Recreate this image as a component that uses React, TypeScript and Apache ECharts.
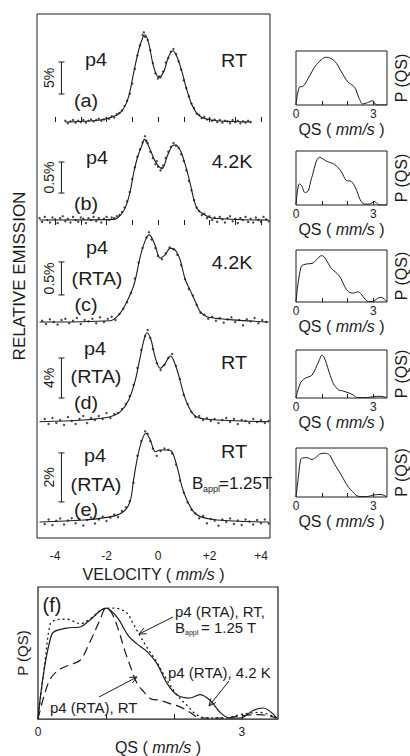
import React, { useEffect, useRef } from "react";
import * as echarts from "echarts";

const FONT = "'Liberation Sans', Arial, Helvetica, sans-serif";
const INK = "#1c1c1c";

// ---- velocity axis (mm/s)
const VEL_MIN = -4.7;
const VEL_MAX = 4.35;
const VEL_TICKS = [-4, -3, -2, -1, 0, 1, 2, 3, 4];
const VEL_LABELS = [-4, -2, 0, 2, 4];

// ---- QS axis (mm/s)
const QS_MAX = 3.53;
const QS_TICKS = [1, 2, 3];
const QS_LABELS = [0, 3];

// ---- spectra: [velocity, relative emission %] (baseline = 0)
const FIT_A = [[-3.6, 0], [-2.24, 0.31], [-1.59, 1.09], [-1.33, 2.14], [-1.14, 3.95], [-0.95, 7.61], [-0.75, 11.25], [-0.58, 13.33], [-0.5, 13.6], [-0.36, 12.3], [-0.17, 8.64], [0.02, 6.98], [0.22, 7.86], [0.41, 10.2], [0.58, 11.14], [0.74, 10.16], [0.93, 7.86], [1.12, 5.0], [1.32, 2.66], [1.51, 1.36], [1.77, 0.58], [2.29, 0.2], [3.6, 0]];
const DOTS_A = [[-3.6, 0.2], [-3.5, -0.2], [-3.4, 0.1], [-3.3, 0.3], [-3.2, -0.1], [-3.1, 0.2], [-3.0, 0.0], [-2.9, 0.3], [-2.8, -0.1], [-2.7, 0.2], [-2.6, 0.4], [-2.5, 0.1], [-2.4, 0.3], [-2.3, 0.5], [-2.2, 0.2], [-2.1, 0.4], [-2.0, 0.6], [-1.9, 0.5], [-1.8, 0.9], [-1.7, 0.7], [-1.6, 1.2], [-1.5, 1.4], [-1.4, 1.8], [-1.3, 2.5], [-1.2, 3.3], [-1.1, 4.4], [-1.0, 6.0], [-0.9, 8.3], [-0.8, 10.4], [-0.7, 12.0], [-0.6, 13.6], [-0.55, 14.0], [-0.5, 13.3], [-0.4, 12.8], [-0.3, 11.2], [-0.2, 9.2], [-0.1, 7.6], [0.0, 6.8], [0.05, 7.1], [0.1, 7.0], [0.2, 7.9], [0.3, 9.3], [0.4, 10.0], [0.5, 11.0], [0.6, 11.4], [0.7, 10.6], [0.8, 9.5], [0.9, 8.2], [1.0, 6.5], [1.1, 5.3], [1.2, 4.0], [1.3, 2.9], [1.4, 2.2], [1.5, 1.3], [1.6, 1.1], [1.7, 0.6], [1.8, 0.8], [1.9, 0.4], [2.0, 0.5], [2.1, 0.2], [2.2, 0.4], [2.3, 0.0], [2.4, 0.3], [2.5, -0.1], [2.6, 0.2], [2.7, 0.1], [2.8, -0.2], [2.9, 0.3], [3.0, 0.0], [3.1, 0.2], [3.2, -0.2], [3.3, 0.1], [3.4, -0.1], [3.5, 0.2], [3.6, 0.0]];

const FIT_B = [[-4.6, 0], [-1.72, 0.01], [-1.4, 0.108], [-1.23, 0.24], [-1.07, 0.48], [-0.95, 0.75], [-0.79, 1.02], [-0.62, 1.21], [-0.53, 1.3], [-0.3, 1.13], [-0.1, 0.94], [0.16, 0.83], [0.35, 1.02], [0.54, 1.19], [0.67, 1.21], [0.86, 1.13], [1.06, 0.89], [1.25, 0.59], [1.38, 0.35], [1.51, 0.19], [1.71, 0.108], [2.16, 0.027], [4.3, 0]];
const DOTS_B = [[-4.6, 0.03], [-4.5, -0.03], [-4.4, 0.05], [-4.3, 0.0], [-4.2, -0.04], [-4.1, 0.04], [-4.0, 0.01], [-3.9, -0.05], [-3.8, 0.03], [-3.7, 0.06], [-3.6, -0.02], [-3.5, 0.02], [-3.4, -0.04], [-3.3, 0.05], [-3.2, 0.0], [-3.1, -0.03], [-3.0, 0.04], [-2.9, 0.02], [-2.8, -0.05], [-2.7, 0.03], [-2.6, 0.0], [-2.5, 0.05], [-2.4, -0.02], [-2.3, 0.03], [-2.2, -0.04], [-2.1, 0.02], [-2.0, 0.05], [-1.9, 0.0], [-1.8, 0.04], [-1.7, 0.03], [-1.6, 0.06], [-1.5, 0.08], [-1.4, 0.13], [-1.3, 0.2], [-1.2, 0.3], [-1.1, 0.45], [-1.0, 0.66], [-0.9, 0.85], [-0.8, 1.02], [-0.7, 1.14], [-0.6, 1.25], [-0.5, 1.35], [-0.45, 1.28], [-0.4, 1.24], [-0.3, 1.1], [-0.2, 1.0], [-0.1, 0.9], [-0.05, 0.95], [0.0, 0.86], [0.1, 0.8], [0.15, 0.84], [0.2, 0.88], [0.3, 1.0], [0.4, 1.1], [0.5, 1.18], [0.6, 1.24], [0.7, 1.2], [0.8, 1.16], [0.9, 1.06], [1.0, 0.95], [1.1, 0.8], [1.2, 0.63], [1.3, 0.48], [1.4, 0.32], [1.5, 0.2], [1.6, 0.14], [1.7, 0.08], [1.8, 0.1], [1.9, 0.03], [2.0, 0.06], [2.1, 0.0], [2.2, 0.04], [2.3, -0.03], [2.4, 0.05], [2.5, 0.01], [2.6, -0.04], [2.7, 0.03], [2.8, 0.06], [2.9, -0.02], [3.0, 0.02], [3.1, -0.05], [3.2, 0.03], [3.3, 0.0], [3.4, 0.05], [3.5, -0.03], [3.6, 0.02], [3.7, -0.04], [3.8, 0.04], [3.9, 0.0], [4.0, -0.03], [4.1, 0.05], [4.2, 0.01], [4.3, -0.02]];

const FIT_C = [[-4.6, 0], [-1.85, 0.02], [-1.53, 0.106], [-1.27, 0.26], [-1.01, 0.48], [-0.88, 0.64], [-0.69, 0.99], [-0.49, 1.24], [-0.34, 1.32], [-0.14, 1.19], [0.09, 0.97], [0.28, 1.02], [0.48, 1.12], [0.67, 1.09], [0.86, 0.94], [1.06, 0.64], [1.25, 0.48], [1.45, 0.31], [1.64, 0.156], [1.9, 0.08], [2.67, 0.04], [4.3, 0]];
const DOTS_C = [[-4.5, 0.02], [-4.35, -0.03], [-4.2, 0.04], [-4.05, 0.0], [-3.9, -0.04], [-3.75, 0.03], [-3.6, 0.05], [-3.45, -0.02], [-3.3, 0.02], [-3.15, 0.06], [-3.0, -0.03], [-2.85, 0.03], [-2.7, 0.01], [-2.55, 0.05], [-2.4, -0.02], [-2.25, 0.07], [-2.1, 0.0], [-1.95, 0.05], [-1.8, 0.08], [-1.65, 0.03], [-1.5, 0.12], [-1.35, 0.2], [-1.2, 0.3], [-1.05, 0.44], [-0.9, 0.66], [-0.75, 0.9], [-0.6, 1.12], [-0.45, 1.28], [-0.35, 1.36], [-0.25, 1.25], [-0.1, 1.12], [0.0, 1.0], [0.15, 0.95], [0.3, 1.04], [0.45, 1.13], [0.6, 1.1], [0.75, 1.02], [0.9, 0.86], [1.05, 0.65], [1.2, 0.5], [1.35, 0.4], [1.5, 0.26], [1.65, 0.14], [1.8, 0.11], [1.95, 0.05], [2.1, 0.08], [2.25, 0.02], [2.4, 0.06], [2.55, -0.01], [2.7, 0.04], [2.85, 0.07], [3.0, 0.0], [3.15, 0.03], [3.3, -0.05], [3.45, 0.04], [3.6, 0.01], [3.75, 0.06], [3.9, -0.02], [4.05, 0.03], [4.2, 0.0]];

const FIT_D = [[-4.6, 0.03], [-2.88, 0.2], [-1.85, 0.53], [-1.46, 1.03], [-1.14, 2.2], [-0.88, 4.2], [-0.69, 6.53], [-0.53, 8.37], [-0.43, 8.93], [-0.27, 8.2], [-0.1, 6.37], [0.09, 5.37], [0.28, 5.87], [0.48, 6.6], [0.6, 6.2], [0.8, 4.7], [0.99, 2.87], [1.19, 1.53], [1.45, 0.6], [1.9, 0.27], [4.3, 0.03]];
const DOTS_D = [[-4.4, 0.3], [-4.25, -0.2], [-4.1, 0.4], [-3.95, -0.1], [-3.8, 0.2], [-3.65, -0.3], [-3.5, 0.5], [-3.35, 0.1], [-3.2, -0.2], [-3.05, 0.3], [-2.9, 0.6], [-2.75, -0.1], [-2.6, 0.4], [-2.45, 0.2], [-2.3, 0.6], [-2.15, 0.3], [-2.0, 0.9], [-1.85, 0.4], [-1.7, 0.8], [-1.55, 0.9], [-1.4, 1.3], [-1.25, 1.8], [-1.1, 2.6], [-0.95, 3.7], [-0.8, 5.4], [-0.65, 7.2], [-0.5, 8.6], [-0.4, 9.2], [-0.3, 8.4], [-0.2, 7.3], [-0.05, 5.9], [0.1, 5.2], [0.25, 5.7], [0.4, 6.4], [0.55, 6.8], [0.7, 5.6], [0.85, 4.3], [1.0, 2.7], [1.15, 1.8], [1.3, 1.0], [1.45, 0.5], [1.6, 0.6], [1.75, 0.2], [1.9, 0.4], [2.05, 0.1], [2.2, 0.3], [2.35, -0.1], [2.5, 0.2], [2.65, 0.4], [2.8, 0.0], [2.95, 0.3], [3.1, -0.2], [3.25, 0.2], [3.4, 0.1], [3.55, -0.1], [3.7, 0.3], [3.85, 0.0], [4.0, 0.2], [4.15, -0.1], [4.3, 0.1]];

const FIT_E = [[-4.6, 0], [-2.88, 0.08], [-1.72, 0.24], [-1.27, 0.49], [-1.07, 0.9], [-0.95, 1.71], [-0.79, 2.67], [-0.62, 3.35], [-0.47, 3.62], [-0.3, 3.35], [-0.1, 2.87], [0.09, 2.94], [0.35, 2.94], [0.54, 2.87], [0.74, 2.26], [0.93, 1.44], [1.12, 0.9], [1.38, 0.42], [1.64, 0.22], [2.29, 0.08], [4.3, 0]];
const DOTS_E = [[-4.4, -0.08], [-4.25, 0.1], [-4.1, -0.12], [-3.95, 0.05], [-3.8, 0.14], [-3.65, -0.1], [-3.5, 0.06], [-3.35, 0.15], [-3.2, -0.05], [-3.05, 0.12], [-2.9, -0.14], [-2.75, 0.08], [-2.6, 0.18], [-2.45, -0.06], [-2.3, 0.1], [-2.15, 0.22], [-2.0, 0.04], [-1.85, 0.18], [-1.7, 0.3], [-1.55, 0.2], [-1.4, 0.45], [-1.25, 0.6], [-1.1, 0.85], [-0.95, 1.6], [-0.8, 2.7], [-0.65, 3.3], [-0.5, 3.7], [-0.4, 3.6], [-0.3, 3.3], [-0.2, 3.0], [-0.05, 2.7], [0.1, 2.9], [0.25, 3.0], [0.4, 2.95], [0.55, 2.8], [0.7, 2.35], [0.85, 1.7], [1.0, 1.2], [1.15, 0.8], [1.3, 0.5], [1.45, 0.35], [1.6, 0.15], [1.75, 0.25], [1.9, -0.05], [2.05, 0.12], [2.2, 0.05], [2.35, -0.15], [2.5, 0.1], [2.65, 0.0], [2.8, 0.14], [2.95, -0.08], [3.1, 0.06], [3.25, -0.12], [3.4, 0.1], [3.55, 0.02], [3.7, -0.1], [3.85, 0.08], [4.0, -0.05], [4.15, 0.1], [4.3, -0.06]];

// scale bars [from %, to %] and their labels
const BAR_V = -3.75;
const BAR_A = [4.375, 9.375];
const BAR_B = [0.435, 0.935];
const BAR_C = [0.41, 0.91];
const BAR_D = [2.4, 6.4];
const BAR_E = [0.82, 2.82];
const BAR_LABELS = ["5%", "0.5%", "0.5%", "4%", "2%"];

// ---- QS distributions [QS mm/s, P(QS) normalised]
const PQS_P4_RT = [[0, 0], [0.13, 0.37], [0.28, 0.39], [0.47, 0.55], [0.8, 0.84], [1.18, 0.99], [1.5, 0.91], [1.76, 0.69], [2.01, 0.48], [2.27, 0.37], [2.44, 0.15], [2.59, 0.02], [2.78, 0.05], [2.97, 0.09], [3.13, 0.0], [3.53, 0]];
const PQS_P4_42K = [[0, 0], [0.13, 0.44], [0.22, 0.4], [0.35, 0.26], [0.47, 0.29], [0.6, 0.55], [0.92, 0.99], [1.18, 0.91], [1.5, 0.84], [1.76, 0.69], [1.95, 0.51], [2.14, 0.49], [2.33, 0.33], [2.49, 0.11], [2.65, 0.02], [2.85, 0.02], [3.04, 0.07], [3.23, 0], [3.53, 0]];
const PQS_RTA_42K = [[0, 0], [0.2, 0.76], [0.42, 0.82], [0.62, 0.83], [0.76, 0.89], [1.0, 1.0], [1.16, 0.92], [1.33, 0.75], [1.45, 0.68], [1.6, 0.61], [1.75, 0.5], [1.89, 0.33], [2.04, 0.22], [2.24, 0.19], [2.38, 0.22], [2.53, 0.17], [2.68, 0.06], [2.82, 0.01], [2.97, 0.01], [3.17, 0.08], [3.31, 0.1], [3.51, 0.01]];
const PQS_RTA_RT = [[0, 0], [0.08, 0.19], [0.18, 0.36], [0.3, 0.44], [0.47, 0.49], [0.62, 0.53], [0.76, 0.69], [0.91, 0.89], [1.0, 1.0], [1.08, 0.96], [1.18, 0.81], [1.28, 0.61], [1.38, 0.44], [1.45, 0.33], [1.55, 0.25], [1.67, 0.18], [1.79, 0.17], [1.94, 0.14], [2.09, 0.11], [2.24, 0.06], [2.38, 0.01], [2.77, 0.01], [2.97, 0.03], [3.26, 0.04], [3.51, 0.01]];
const PQS_RTA_RT_B = [[0, 0], [0.1, 0.5], [0.18, 0.86], [0.25, 0.89], [0.42, 0.9], [0.62, 0.86], [0.76, 0.9], [0.96, 0.99], [1.13, 1.0], [1.3, 0.96], [1.4, 0.86], [1.5, 0.75], [1.62, 0.63], [1.75, 0.51], [1.89, 0.36], [2.04, 0.22], [2.19, 0.125], [2.33, 0.04], [2.48, 0.01], [2.77, 0.01], [2.97, 0.04], [3.26, 0.06], [3.51, 0.01]];

// ---- layout
const MAIN = { left: 37, top: 14, width: 233, height: 524 };
const SPEC_LAYOUT = [
  { base: 122, ppu: 6.4 },
  { base: 220, ppu: 62 },
  { base: 322, ppu: 66 },
  { base: 422, ppu: 10 },
  { base: 522, ppu: 24.5 },
];
const INSET_BOXES = [[51, 105], [151, 205], [250, 302], [350, 398], [448, 497]];
const FBOX = { left: 38, top: 587, width: 240, height: 143 };

const SPECTRA = [
  { fit: FIT_A, dots: DOTS_A, bar: BAR_A },
  { fit: FIT_B, dots: DOTS_B, bar: BAR_B },
  { fit: FIT_C, dots: DOTS_C, bar: BAR_C },
  { fit: FIT_D, dots: DOTS_D, bar: BAR_D },
  { fit: FIT_E, dots: DOTS_E, bar: BAR_E },
];
const INSET_CURVES = [PQS_P4_RT, PQS_P4_42K, PQS_RTA_42K, PQS_RTA_RT, PQS_RTA_RT_B];

const richQS = (size: number) => ({
  n: { fontSize: size, fontFamily: FONT, color: INK },
  i: { fontSize: size, fontFamily: FONT, color: INK, fontStyle: "italic" },
});

function txt(text: string, x: number, y: number, size = 18, align = "center", sx = 1.1) {
  return {
    type: "text",
    x,
    y,
    scaleX: sx,
    style: { text, fontSize: size, fontFamily: FONT, fill: INK, align, verticalAlign: "middle" },
  };
}

function arrow(p0: number[], p1: number[]) {
  const dx = p1[0] - p0[0];
  const dy = p1[1] - p0[1];
  const L = Math.hypot(dx, dy);
  const ux = dx / L;
  const uy = dy / L;
  const h = 7;
  const w = 3.2;
  const bx = p1[0] - ux * h;
  const by = p1[1] - uy * h;
  return [
    { type: "polyline", shape: { points: [p0, p1] }, style: { stroke: INK, lineWidth: 1, fill: null } },
    {
      type: "polyline",
      shape: { points: [[bx - uy * w, by + ux * w], p1, [bx + uy * w, by - ux * w]] },
      style: { stroke: INK, lineWidth: 1, fill: null },
    },
  ];
}

function buildOption() {
  const grids: any[] = [];
  const xAxes: any[] = [];
  const yAxes: any[] = [];
  const series: any[] = [];

  grids.push({ ...MAIN, show: true, borderColor: INK, borderWidth: 1, backgroundColor: "transparent" });
  xAxes.push({
    type: "value", gridIndex: 0, min: VEL_MIN, max: VEL_MAX, position: "bottom",
    axisLine: { show: false }, splitLine: { show: false },
    axisTick: { show: true, inside: true, length: 5, customValues: VEL_TICKS, lineStyle: { color: INK } },
    axisLabel: {
      customValues: VEL_LABELS, fontSize: 12, color: INK, fontFamily: FONT, margin: 12,
      formatter: (v: number) => (v > 0 ? "+" + v : String(v)),
    },
    name: "{n|VELOCITY ( }{i|mm/s}{n| )}", nameLocation: "middle", nameGap: 26,
    nameTextStyle: { rich: richQS(16) },
  });
  xAxes.push({
    type: "value", gridIndex: 0, min: VEL_MIN, max: VEL_MAX, position: "top",
    axisLine: { show: false }, splitLine: { show: false }, axisLabel: { show: false },
    axisTick: { show: true, inside: true, length: 5, customValues: VEL_TICKS, lineStyle: { color: INK } },
  });

  SPECTRA.forEach((s, i) => {
    const lay = SPEC_LAYOUT[i];
    yAxes.push({
      type: "value", gridIndex: 0, show: false,
      min: -(MAIN.top + MAIN.height - lay.base) / lay.ppu,
      max: (lay.base - MAIN.top) / lay.ppu,
    });
    series.push({
      type: "scatter", xAxisIndex: 0, yAxisIndex: i, data: s.dots, symbolSize: 2.4,
      itemStyle: { color: INK }, silent: true,
    });
    series.push({
      type: "line", xAxisIndex: 0, yAxisIndex: i, data: s.fit, smooth: 0.35, symbol: "none",
      lineStyle: { color: INK, width: 1.1 }, silent: true,
    });
    const label = BAR_LABELS[i];
    series.push({
      type: "custom", xAxisIndex: 0, yAxisIndex: i, data: [[BAR_V, s.bar[0], s.bar[1]]], silent: true,
      renderItem: (_p: any, api: any) => {
        const top = api.coord([api.value(0), api.value(2)]);
        const bot = api.coord([api.value(0), api.value(1)]);
        const ls = { stroke: INK, lineWidth: 1 };
        return {
          type: "group",
          children: [
            { type: "line", shape: { x1: top[0], y1: top[1], x2: bot[0], y2: bot[1] }, style: ls },
            { type: "line", shape: { x1: top[0] - 3, y1: top[1], x2: top[0] + 3, y2: top[1] }, style: ls },
            { type: "line", shape: { x1: bot[0] - 3, y1: bot[1], x2: bot[0] + 3, y2: bot[1] }, style: ls },
            {
              type: "text", x: top[0] - 12, y: (top[1] + bot[1]) / 2, rotation: Math.PI / 2,
              style: { text: label, fontSize: 14, fontFamily: FONT, fill: INK, align: "center", verticalAlign: "middle" },
            },
          ],
        };
      },
    });
  });

  // insets
  INSET_CURVES.forEach((curve, k) => {
    const [t, b] = INSET_BOXES[k];
    const gi = grids.length;
    grids.push({ left: 296, top: t, width: 91, height: b - t, show: true, borderColor: INK, borderWidth: 1, backgroundColor: "transparent" });
    const xi = xAxes.length;
    xAxes.push({
      type: "value", gridIndex: gi, min: 0, max: QS_MAX,
      axisLine: { show: false }, splitLine: { show: false },
      axisTick: { show: true, inside: true, length: 4, customValues: QS_TICKS, lineStyle: { color: INK } },
      axisLabel: { customValues: QS_LABELS, fontSize: 12, color: INK, fontFamily: FONT, margin: 3 },
      name: "{n|QS ( }{i|mm/s}{n| )}", nameLocation: "middle", nameGap: 16,
      nameTextStyle: { rich: richQS(16) },
    });
    const yi = yAxes.length;
    yAxes.push({
      type: "value", gridIndex: gi, min: 0, max: 1.12, position: "right",
      axisLine: { show: false }, axisTick: { show: false }, axisLabel: { show: false }, splitLine: { show: false },
      name: "P (QS)", nameLocation: "middle", nameRotate: 90, nameGap: 6,
      nameTextStyle: { fontSize: 16, fontFamily: FONT, color: INK },
    });
    series.push({
      type: "line", xAxisIndex: xi, yAxisIndex: yi, data: curve, smooth: 0.35, symbol: "none",
      lineStyle: { color: INK, width: 1 }, silent: true,
    });
  });

  // panel (f)
  const fg = grids.length;
  grids.push({ ...FBOX, show: true, borderColor: INK, borderWidth: 1.2, backgroundColor: "transparent" });
  const fx = xAxes.length;
  xAxes.push({
    type: "value", gridIndex: fg, min: 0, max: QS_MAX,
    axisLine: { show: false }, splitLine: { show: false },
    axisTick: { show: true, inside: true, length: 5, customValues: QS_TICKS, lineStyle: { color: INK } },
    axisLabel: { customValues: QS_LABELS, fontSize: 12, color: INK, fontFamily: FONT, margin: 7 },
    name: "{n|QS ( }{i|mm/s}{n| )}", nameLocation: "middle", nameGap: 16,
    nameTextStyle: { rich: richQS(16) },
  });
  const fy = yAxes.length;
  yAxes.push({
    type: "value", gridIndex: fg, min: 0, max: 1.19, position: "left",
    axisLine: { show: false }, axisTick: { show: false }, axisLabel: { show: false }, splitLine: { show: false },
    name: "P (QS)", nameLocation: "middle", nameRotate: 90, nameGap: 8,
    nameTextStyle: { fontSize: 15, fontFamily: FONT, color: INK },
  });
  series.push({
    type: "line", xAxisIndex: fx, yAxisIndex: fy, data: PQS_RTA_42K, smooth: 0.35, symbol: "none",
    lineStyle: { color: INK, width: 1.2 }, silent: true,
  });
  series.push({
    type: "line", xAxisIndex: fx, yAxisIndex: fy, data: PQS_RTA_RT_B, smooth: 0.35, symbol: "none",
    lineStyle: { color: INK, width: 1.3, type: [2, 3] }, silent: true,
  });
  series.push({
    type: "line", xAxisIndex: fx, yAxisIndex: fy, data: PQS_RTA_RT, smooth: 0.35, symbol: "none",
    lineStyle: { color: INK, width: 1.2, type: [9, 5] }, silent: true,
  });

  const graphics: any[] = [
    {
      type: "text", x: 19, y: 276, rotation: Math.PI / 2,
      style: { text: "RELATIVE EMISSION", fontSize: 17, fontFamily: FONT, fill: INK, align: "center", verticalAlign: "middle" },
    },
    txt("p4", 96, 60), txt("RT", 234, 61), txt("(a)", 86, 101),
    txt("p4", 97, 158), txt("4.2K", 232, 162), txt("(b)", 86, 204),
    txt("p4", 97, 248), txt("(RTA)", 97, 279), txt("(c)", 86, 305), txt("4.2K", 232, 263),
    txt("p4", 95, 349), txt("(RTA)", 96, 377), txt("(d)", 86, 403), txt("RT", 234, 363),
    txt("p4", 95, 456), txt("(RTA)", 96, 485), txt("(e)", 86, 510), txt("RT", 234, 452),
    txt("B", 192, 483, 17, "left", 1),
    txt("appl", 203, 489, 9, "left", 1),
    txt("=1.25T", 219, 483, 17, "left", 1),
    txt("(f)", 52, 605, 20, "center", 1),
    txt("p4 (RTA), RT,", 175, 611, 15, "left", 1),
    txt("B", 175, 627, 15, "left", 1),
    txt("appl", 185, 632, 7, "left", 1),
    txt("= 1.25 T", 201, 627, 15, "left", 1),
    txt("p4 (RTA), 4.2 K", 168, 672, 15, "left", 1),
    txt("p4 (RTA), RT", 50, 707, 15, "left", 1),
    ...arrow([173, 617], [139, 634]),
    ...arrow([229, 681], [209, 706]),
    ...arrow([99, 697], [137, 677]),
  ];

  return {
    animation: false,
    backgroundColor: "#ffffff",
    textStyle: { fontFamily: FONT },
    grid: grids,
    xAxis: xAxes,
    yAxis: yAxes,
    series,
    graphic: graphics,
  };
}

export default function App() {
  const ref = useRef<HTMLDivElement>(null);
  useEffect(() => {
    if (!ref.current) return;
    const chart = echarts.init(ref.current, null, { renderer: "svg" });
    chart.setOption(buildOption() as any);
    return () => chart.dispose();
  }, []);
  return (
    <div
      ref={ref}
      style={{ position: "fixed", left: 0, top: 0, width: 410, height: 756, background: "#fff" }}
    />
  );
}
